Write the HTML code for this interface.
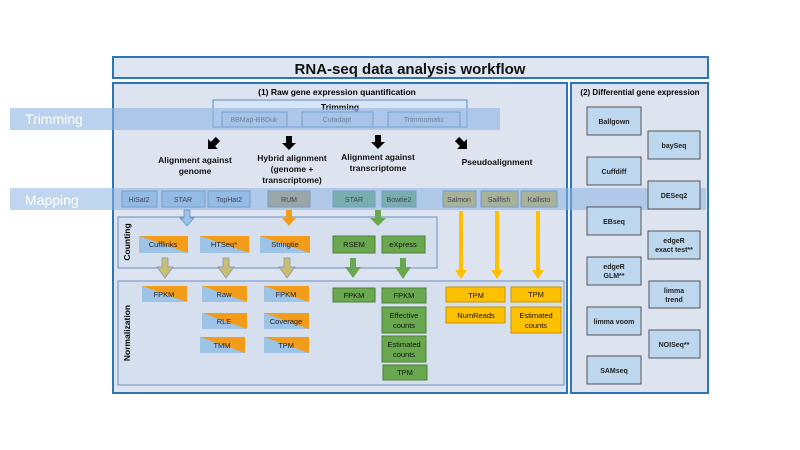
<!DOCTYPE html>
<html><head><meta charset="utf-8"><style>
body{margin:0;background:#fff;width:800px;height:450px;overflow:hidden}
svg{display:block;font-family:"Liberation Sans",Arial,sans-serif}
</style></head><body>
<svg width="800" height="450" viewBox="0 0 800 450" xmlns="http://www.w3.org/2000/svg">
<defs>
<linearGradient id="bo" x1="0" y1="1" x2="1" y2="0"><stop offset="0.5" stop-color="#9dc3e6"/><stop offset="0.5" stop-color="#f39c1a"/></linearGradient>
<polygon id="ba" points="-3,-7 3,-7 3,0 7,0 0,7 -7,0 -3,0"/>
</defs>
<!-- title -->
<rect x="113" y="57" width="595" height="21" fill="#dde6f2" stroke="#2e75b6" stroke-width="2"/>
<text x="410" y="74" font-size="15" font-weight="bold" text-anchor="middle" fill="#111">RNA-seq data analysis workflow</text>
<!-- panels -->
<rect x="113" y="83" width="454" height="310" fill="#dde3ef" stroke="#2e75b6" stroke-width="2"/>
<rect x="571" y="83" width="137" height="310" fill="#dde3ef" stroke="#2e75b6" stroke-width="2"/>
<text x="337" y="95" font-size="8.5" font-weight="bold" text-anchor="middle">(1) Raw gene expression quantification</text>
<text x="640" y="95" font-size="8" font-weight="bold" text-anchor="middle">(2) Differential gene expression</text>
<!-- trimming -->
<rect x="213" y="100" width="254" height="27" fill="#d9e4f2" stroke="#5b8cc4"/>
<text x="340" y="110" font-size="8.5" font-weight="bold" text-anchor="middle">Trimming</text>
<g fill="#c9dbee" stroke="#5b7fa8">
<rect x="222" y="112" width="65" height="15"/><rect x="302" y="112" width="71" height="15"/><rect x="388" y="112" width="72" height="15"/></g>
<g font-size="7" fill="#333" text-anchor="middle"><text x="254" y="122">BBMap-BBDuk</text><text x="337" y="122">Cutadapt</text><text x="424" y="122">Trimmomatic</text></g>
<rect x="10" y="108" width="490" height="22" fill="#8db4e2" opacity="0.6"/>
<text x="25" y="124" font-size="14" fill="#fff">Trimming</text>
<!-- black arrows -->
<g fill="#000">
<use href="#ba" transform="translate(213,144) rotate(45)"/>
<use href="#ba" transform="translate(289,143)"/>
<use href="#ba" transform="translate(378,142)"/>
<use href="#ba" transform="translate(462,144) rotate(-45)"/>
</g>
<g font-size="8.5" font-weight="bold" text-anchor="middle" fill="#111">
<text x="195" y="163">Alignment against</text><text x="195" y="174">genome</text>
<text x="292" y="161">Hybrid alignment</text><text x="292" y="172">(genome +</text><text x="292" y="183">transcriptome)</text>
<text x="378" y="160">Alignment against</text><text x="378" y="171">transcriptome</text>
<text x="497" y="165">Pseudoalignment</text>
</g>
<!-- mapping boxes -->
<g stroke="#5b7fa8">
<rect x="122" y="191" width="35" height="16" fill="#9dc3e6"/><rect x="162" y="191" width="43" height="16" fill="#9dc3e6"/><rect x="208" y="191" width="42" height="16" fill="#9dc3e6"/>
<rect x="268" y="191" width="42" height="16" fill="#a89860"/>
<rect x="333" y="191" width="42" height="16" fill="#5fa870"/><rect x="382" y="191" width="34" height="16" fill="#5fa870"/>
<rect x="443" y="191" width="33" height="16" fill="#c8b040"/><rect x="481" y="191" width="37" height="16" fill="#c8b040"/><rect x="521" y="191" width="36" height="16" fill="#c8b040"/>
</g>
<rect x="10" y="188" width="696" height="22" fill="#8db4e2" opacity="0.55"/>
<g font-size="7" fill="#445" text-anchor="middle">
<text x="139" y="202">HiSat2</text><text x="183" y="202">STAR</text><text x="229" y="202">TopHat2</text><text x="289" y="202">RUM</text><text x="354" y="202">STAR</text><text x="399" y="202">Bowtie2</text><text x="459" y="202">Salmon</text><text x="499" y="202">Sailfish</text><text x="539" y="202">Kallisto</text></g>
<text x="25" y="205" font-size="14" fill="#fff">Mapping</text>
<!-- counting -->
<rect x="118" y="217" width="319" height="51" fill="#d5dfee" stroke="#6a8fbf"/>
<text transform="translate(130,242) rotate(-90)" font-size="8.5" font-weight="bold" text-anchor="middle">Counting</text>
<rect x="118" y="281" width="446" height="104" fill="#d5dfee" stroke="#6a8fbf"/>
<text transform="translate(130,333) rotate(-90)" font-size="8.5" font-weight="bold" text-anchor="middle">Normalization</text>
<!-- arrows -->
<polygon points="184,210 190,210 190,218 194,218 187,226 180,218 184,218" fill="#9dc3e6" stroke="#5b8cc4" stroke-width="0.7"/>
<polygon points="286,210 292,210 292,218 296,218 289,226 282,218 286,218" fill="#f39c1a"/>
<polygon points="375,210 381,210 381,218 386,218 378,226 370,218 375,218" fill="#6aa84f"/>
<g fill="#c8c070" stroke="#7f8fb0" stroke-width="0.7">
<polygon points="162,258 168,258 168,267 173,267 165,278 157,267 162,267"/>
<polygon points="223,258 229,258 229,267 234,267 226,278 218,267 223,267"/>
<polygon points="284,258 290,258 290,267 295,267 287,278 279,267 284,267"/>
</g>
<g fill="#6aa84f">
<polygon points="350,258 356,258 356,267 361,267 353,278 345,267 350,267"/>
<polygon points="400,258 406,258 406,267 411,267 403,279 395,267 400,267"/>
</g>
<g fill="#ffc000">
<polygon points="459,211 463,211 463,270 467,270 461,279 455,270 459,270"/>
<polygon points="495,211 499,211 499,270 503,270 497,279 491,270 495,270"/>
<polygon points="536,211 540,211 540,270 544,270 538,279 532,270 536,270"/>
</g>
<!-- split boxes -->
<g fill="url(#bo)">
<rect x="139" y="236" width="49" height="17"/><rect x="200" y="236" width="49" height="17"/><rect x="260" y="236" width="50" height="17"/>
<rect x="142" y="286" width="45" height="16"/><rect x="202" y="286" width="45" height="16"/><rect x="264" y="286" width="45" height="16"/>
<rect x="202" y="313" width="45" height="16"/><rect x="264" y="313" width="45" height="16"/>
<rect x="200" y="337" width="45" height="16"/><rect x="264" y="337" width="45" height="16"/>
</g>
<g font-size="7.5" fill="#222" text-anchor="middle">
<text x="163" y="247">Cufflinks</text><text x="224" y="247">HTSeq*</text><text x="285" y="247">Stringtie</text>
<text x="164" y="297">FPKM</text><text x="224" y="297">Raw</text><text x="286" y="297">FPKM</text>
<text x="224" y="324">RLE</text><text x="286" y="324">Coverage</text>
<text x="222" y="348">TMM</text><text x="286" y="348">TPM</text>
</g>
<!-- green -->
<g fill="#6aa84f" stroke="#4d7f38">
<rect x="333" y="236" width="42" height="17"/><rect x="382" y="236" width="43" height="17"/>
<rect x="333" y="288" width="42" height="14"/><rect x="382" y="288" width="44" height="15"/>
<rect x="382" y="307" width="44" height="26"/><rect x="382" y="336" width="44" height="26"/><rect x="383" y="365" width="44" height="15"/>
</g>
<g font-size="7.5" fill="#111" text-anchor="middle">
<text x="354" y="247">RSEM</text><text x="403" y="247">eXpress</text>
<text x="354" y="298">FPKM</text><text x="404" y="298">FPKM</text>
<text x="404" y="318">Effective</text><text x="404" y="328">counts</text>
<text x="404" y="347">Estimated</text><text x="404" y="357">counts</text>
<text x="405" y="375">TPM</text>
</g>
<!-- yellow -->
<g fill="#ffc000" stroke="#c89400">
<rect x="446" y="287" width="59" height="15"/><rect x="446" y="307" width="59" height="16"/>
<rect x="511" y="287" width="50" height="15"/><rect x="511" y="307" width="50" height="26"/>
</g>
<g font-size="7.5" fill="#111" text-anchor="middle">
<text x="476" y="298">TPM</text><text x="476" y="318">NumReads</text>
<text x="536" y="297">TPM</text><text x="536" y="318">Estimated</text><text x="536" y="328">counts</text>
</g>
<!-- DE boxes -->
<g fill="#bdd7ee" stroke="#555">
<rect x="587" y="107" width="54" height="28"/><rect x="648" y="131" width="52" height="28"/>
<rect x="587" y="157" width="54" height="28"/><rect x="648" y="181" width="52" height="28"/>
<rect x="587" y="207" width="54" height="28"/><rect x="648" y="231" width="52" height="28"/>
<rect x="587" y="257" width="54" height="28"/><rect x="649" y="281" width="51" height="27"/>
<rect x="587" y="307" width="54" height="28"/><rect x="649" y="330" width="51" height="28"/>
<rect x="587" y="356" width="54" height="28"/>
</g>
<g font-size="7" font-weight="bold" fill="#222" text-anchor="middle">
<text x="614" y="124">Ballgown</text><text x="674" y="148">baySeq</text>
<text x="614" y="174">Cuffdiff</text><text x="674" y="198">DESeq2</text>
<text x="614" y="224">EBseq</text><text x="674" y="243">edgeR</text><text x="674" y="252">exact test**</text>
<text x="614" y="269">edgeR</text><text x="614" y="278">GLM**</text>
<text x="674" y="293">limma</text><text x="674" y="302">trend</text>
<text x="614" y="324">limma voom</text><text x="674" y="347">NOISeq**</text>
<text x="614" y="373">SAMseq</text>
</g>
</svg>
</body></html>
